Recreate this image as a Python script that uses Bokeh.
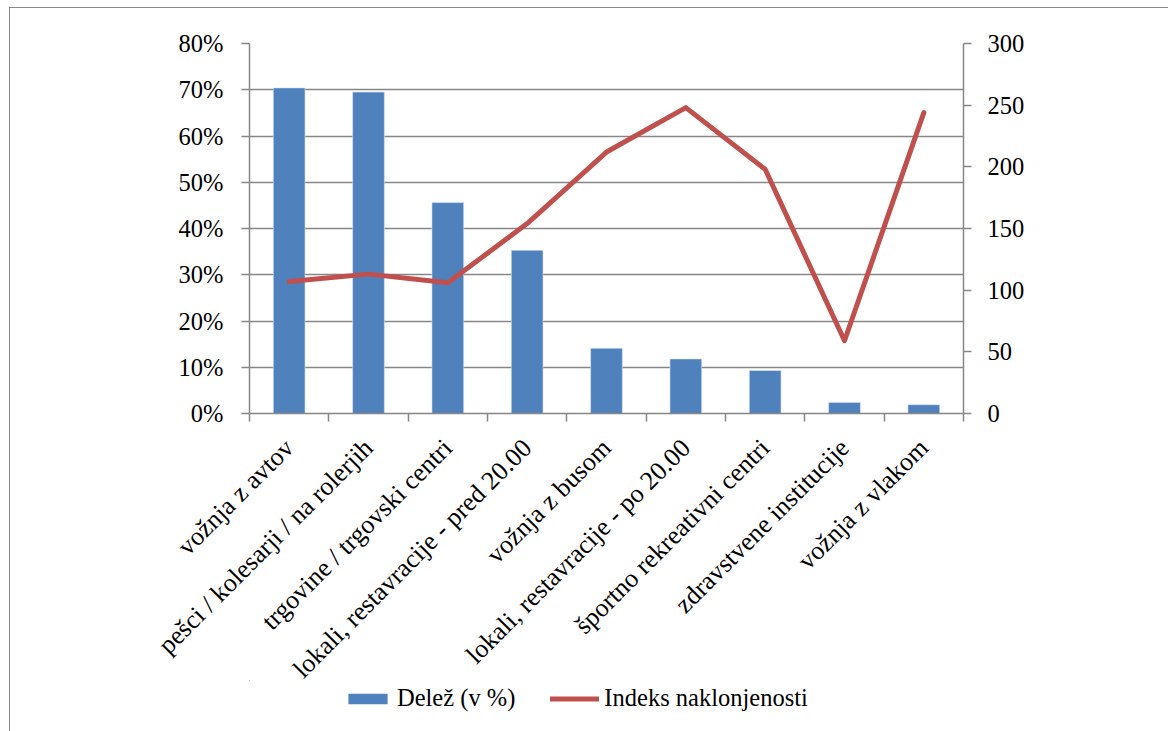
import math
from bokeh.plotting import figure
from bokeh.layouts import column
from bokeh.models import (LinearAxis, Range1d, FixedTicker, NumeralTickFormatter,
                          Legend, LegendItem, ColumnDataSource, Grid)
from bokeh.embed import file_html
from bokeh.resources import INLINE

categories = ["vožnja z avtov", "pešci / kolesarji / na rolerjih", "trgovine / trgovski centri",
              "lokali, restavracije - pred 20.00", "vožnja z busom", "lokali, restavracije - po 20.00",
              "športno rekreativni centri", "zdravstvene institucije", "vožnja z vlakom"]
delez = [0.704, 0.695, 0.456, 0.353, 0.141, 0.118, 0.093, 0.024, 0.019]
indeks = [107, 113, 106, 154, 212, 248, 198, 59, 244]
left_ticks = [0, 0.1, 0.2, 0.3, 0.4, 0.5, 0.6, 0.7, 0.8]
right_ticks = [0, 50, 100, 150, 200, 250, 300]
series_names = ["Delež (v %)", "Indeks naklonjenosti"]

FONT = "Liberation Serif"
FS = "24.5px"
CAT_FS = "26px"
GRAY = "#868686"
BLUE = "#4F81BD"
RED = "#C0504D"

xs = list(range(len(categories)))
src = ColumnDataSource(dict(x=xs, delez=delez, indeks=indeks))

W = 1158
p = figure(width=W, height=705, output_backend="svg", toolbar_location=None,
           x_range=Range1d(-0.5, len(categories) - 0.5), y_range=Range1d(0, 0.8),
           min_border_left=239, min_border_right=205, min_border_top=35, min_border_bottom=300,
           x_axis_location=None, y_axis_location=None)
p.outline_line_color = None
p.background_fill_color = "white"
p.border_fill_color = "white"
p.extra_y_ranges = {"right": Range1d(0, 300)}
p.xgrid.visible = False
p.ygrid.visible = False

bars = p.vbar(x="x", top="delez", width=0.4, source=src, fill_color=BLUE,
              line_color="#DCE6F2", line_width=0.6)
ln = p.line(x="x", y="indeks", source=src, y_range_name="right", line_color=RED,
            line_width=5, line_join="round", line_cap="round")

# left axis
ya = LinearAxis(ticker=FixedTicker(ticks=left_ticks), formatter=NumeralTickFormatter(format="0%"))
ya.axis_line_color = GRAY
ya.axis_line_width = 1.5
ya.major_tick_line_color = GRAY
ya.major_tick_line_width = 1.5
ya.major_tick_out = 8
ya.major_tick_in = 0
ya.minor_tick_line_color = None
ya.major_label_standoff = 18
ya.major_label_text_font = FONT
ya.major_label_text_font_size = FS
ya.major_label_text_color = "black"
p.add_layout(ya, "left")

g = Grid(dimension=1, ticker=ya.ticker, grid_line_color=GRAY, grid_line_width=1.5)
p.add_layout(g)
p.renderers.remove(bars)
p.renderers.remove(ln)
p.renderers.extend([bars, ln])

# right axis
ra = LinearAxis(y_range_name="right", ticker=FixedTicker(ticks=right_ticks))
ra.axis_line_color = GRAY
ra.axis_line_width = 1.5
ra.major_tick_line_color = GRAY
ra.major_tick_line_width = 1.5
ra.major_tick_out = 8
ra.major_tick_in = 0
ra.minor_tick_line_color = None
ra.major_label_standoff = 16
ra.major_label_text_font = FONT
ra.major_label_text_font_size = FS
ra.major_label_text_color = "black"
p.add_layout(ra, "right")

# bottom axis
bounds = [i - 0.5 for i in range(len(categories) + 1)]
xa = LinearAxis(ticker=FixedTicker(ticks=xs, minor_ticks=bounds),
                major_label_overrides={i: c for i, c in enumerate(categories)})
xa.axis_line_color = GRAY
xa.axis_line_width = 1.5
xa.major_tick_line_color = None
xa.major_tick_out = 0
xa.major_tick_in = 0
xa.minor_tick_line_color = GRAY
xa.minor_tick_line_width = 1.5
xa.minor_tick_out = 8
xa.minor_tick_in = 0
xa.major_label_orientation = math.pi / 4
xa.major_label_standoff = 22
xa.major_label_text_font = FONT
xa.major_label_text_font_size = CAT_FS
xa.major_label_text_color = "black"
p.add_layout(xa, "below")

# legend strip (separate canvas so the legend is not clipped by the chart frame);
# its key glyphs use the same data but lie far outside this strip's ranges
lf = figure(width=W, height=51, output_backend="svg", toolbar_location=None,
            x_range=Range1d(100, 101), y_range=Range1d(-3, -2),
            min_border=0, x_axis_location=None, y_axis_location=None)
lf.outline_line_color = None
lf.background_fill_alpha = 0
lf.border_fill_alpha = 0
lf.xgrid.visible = False
lf.ygrid.visible = False
kb = lf.vbar(x="x", top="delez", width=0.4, source=src, fill_color=BLUE, line_color=None)
kl = lf.line(x="x", y="indeks", source=src, line_color=RED, line_width=5, line_cap="round")
legend = Legend(items=[LegendItem(label=series_names[0], renderers=[kb]),
                       LegendItem(label=series_names[1], renderers=[kl])],
                orientation="horizontal", location=(94, 19),
                glyph_width=49, glyph_height=13, label_standoff=5, spacing=35,
                label_height=28, padding=0, margin=0, border_line_color=None,
                background_fill_alpha=0,
                label_text_font=FONT, label_text_font_size=FS, label_text_color="black")
lf.add_layout(legend, "center")
lf.styles = {"margin-top": "-33px"}

layout = column(p, lf, spacing=0)
layout.styles = {"margin-left": "9px", "margin-top": "7px",
                 "border-left": "1.5px solid #888888", "border-top": "1.5px solid #888888"}

open("out.html", "w").write(file_html(layout, INLINE))
